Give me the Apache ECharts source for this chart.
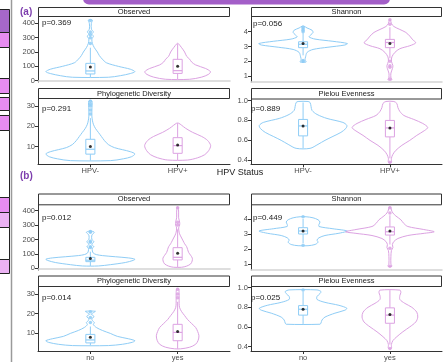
<!DOCTYPE html>
<html>
<head>
<meta charset="utf-8">
<script src="https://cdn.jsdelivr.net/npm/echarts@6/dist/echarts.min.js"></script>
<style>
  html, body { margin: 0; padding: 0; background: #fff; }
  #chart { width: 445px; height: 362px; }
</style>
</head>
<body>
<div id="chart"></div>
<script>
const groupsA = ['HPV-', 'HPV+'];
const groupsB = ['no', 'yes'];
const metrics = ['Observed', 'Shannon', 'Phylogenetic Diversity', 'Pielou Evenness'];
const pValuesA = ['p=0.369', 'p=0.056', 'p=0.291', 'p=0.889'];
const pValuesB = ['p=0.012', 'p=0.449', 'p=0.014', 'p=0.025'];

const ticksObserved = [0, 100, 200, 300, 400];
const ticksShannon = [1, 2, 3, 4];
const ticksPhylo = [10, 20, 30];
const ticksPielou = [0.4, 0.6, 0.8, 1.0];

// violin outlines: [value, density] (density in relative units, widest = 44.5)
const vioObsNegA = [[24, 18], [35, 30], [50, 40], [63, 44.5], [80, 40], [100, 28], [125, 16], [150, 12], [175, 9], [200, 7], [230, 4], [260, 2], [290, 1.5], [310, 3], [325, 1.5], [340, 3], [360, 1], [400, 1], [423, 2]];
const vioObsPosA = [[10, 12], [25, 24], [45, 31], [63, 32.8], [85, 28], [110, 18], [130, 14], [150, 12], [170, 9], [200, 7], [230, 4], [260, 0.5]];
const vioShaNegA = [[1.95, 3], [2.1, 2], [2.3, 2.5], [2.6, 4], [2.8, 10], [2.95, 25], [3.1, 42], [3.2, 44.5], [3.35, 30], [3.5, 12], [3.65, 6], [3.8, 8], [3.95, 10], [4.1, 9], [4.25, 4], [4.37, 1]];
const vioShaPosA = [[0.75, 2], [0.9, 1], [1.2, 1], [1.5, 2.5], [1.7, 3], [2.0, 1.5], [2.3, 2], [2.6, 5], [2.85, 10], [3.05, 20], [3.25, 26], [3.45, 23], [3.7, 20], [3.95, 16], [4.15, 10], [4.35, 4], [4.55, 1.5], [4.8, 0.5]];
const vioPhyNegA = [[3.1, 20], [4.0, 33], [5.0, 41], [6.4, 44.5], [7.5, 40], [8.5, 32], [9.5, 24], [11, 18], [13, 14], [15, 11], [17, 8], [19, 5], [21, 3], [23, 2], [25, 1.5], [28, 1.5], [32.5, 1.5]];
const vioPhyPosA = [[3.4, 10], [4.5, 20], [6, 27], [8, 31], [10.5, 33], [13, 30], [15, 24], [17, 15], [19, 8], [20.5, 4], [21.5, 1]];
const vioPieNegA = [[0.52, 7], [0.56, 15], [0.6, 22], [0.64, 30], [0.68, 38], [0.72, 43], [0.75, 44], [0.78, 40], [0.82, 24], [0.86, 14], [0.9, 9], [0.94, 8], [0.98, 7], [0.99, 5]];
const vioPiePosA = [[0.38, 1.5], [0.42, 1.5], [0.46, 3], [0.5, 6], [0.55, 12], [0.6, 20], [0.65, 27], [0.7, 35], [0.73, 38], [0.77, 33], [0.81, 24], [0.85, 14], [0.89, 10], [0.93, 8], [0.97, 7], [0.99, 4]];

const vioObsNoB = [[16, 8], [25, 20], [40, 35], [55, 43], [63, 44.5], [72, 38], [80, 25], [88, 12], [95, 6], [105, 3], [120, 2], [140, 2], [150, 3.5], [165, 1.5], [185, 3.5], [200, 1.5], [230, 1.5], [250, 4], [258, 1]];
const vioObsYesB = [[7, 4], [15, 9], [30, 13], [50, 14.5], [70, 14.7], [90, 13], [110, 11], [130, 10], [150, 9], [170, 7], [190, 5.5], [210, 4], [230, 2.5], [250, 1.5], [280, 1], [300, 2], [320, 2], [350, 1], [390, 1], [424, 0.5]];
const vioShaNoB = [[2.22, 5], [2.3, 12], [2.45, 15], [2.6, 14], [2.75, 16], [2.9, 22], [3.05, 36], [3.2, 44.3], [3.35, 30], [3.5, 16], [3.65, 16], [3.8, 17], [3.95, 15], [4.08, 10], [4.15, 3]];
const vioShaYesB = [[0.85, 2], [1.0, 1], [1.5, 1], [1.9, 1.5], [2.1, 3], [2.3, 2.5], [2.5, 4], [2.7, 8], [2.9, 18], [3.05, 35], [3.15, 44.5], [3.3, 34], [3.5, 18], [3.7, 14], [3.95, 11], [4.2, 6], [4.4, 3], [4.6, 1.5], [4.78, 1]];
const vioPhyNoB = [[3.85, 18], [4.5, 32], [5.5, 42], [6.3, 44.5], [7.3, 38], [8.5, 27], [10, 20], [11.5, 12], [13, 6], [14.5, 3], [15.5, 4], [16.5, 2], [17.5, 1.5], [18.3, 3.5], [19, 3], [19.7, 0.8], [20.5, 3], [21.2, 5]];
const vioPhyYesB = [[2.2, 3], [3, 12], [4.5, 18], [6.5, 20.5], [8.8, 21.3], [11, 20], [13, 18], [15, 14], [17, 10], [19, 7], [21, 4], [23, 2], [25, 1.5], [28, 1.5], [30, 1.5], [32.5, 1]];
const vioPieNoB = [[0.627, 17], [0.64, 18], [0.67, 19], [0.7, 22], [0.74, 32], [0.77, 42], [0.79, 44], [0.82, 36], [0.85, 22], [0.88, 14], [0.91, 14], [0.94, 17], [0.96, 18], [0.977, 14]];
const vioPieYesB = [[0.38, 1.5], [0.42, 1.5], [0.46, 3], [0.5, 7], [0.55, 13], [0.6, 20], [0.65, 26], [0.7, 28], [0.75, 27], [0.8, 22], [0.84, 15], [0.88, 10], [0.92, 10], [0.95, 11], [0.975, 10]];

// boxes: [lower whisker, q1, median, q3, upper whisker]
const boxObsA = [[24, 47, 68, 121, 230], [10, 51, 70, 149, 255]];
const boxShaA = [[2.4, 2.92, 3.15, 3.32, 3.9], [2.2, 2.92, 3.27, 3.48, 4.3]];
const boxPhyA = [[3.1, 6.3, 8.7, 13.6, 24], [3.4, 6.7, 10.5, 14.4, 21.5]];
const boxPieA = [[0.52, 0.645, 0.745, 0.81, 0.98], [0.42, 0.635, 0.725, 0.80, 0.98]];
const boxObsB = [[16, 46, 56, 76, 115], [7, 58, 76, 143, 270]];
const boxShaB = [[2.4, 3.0, 3.2, 3.42, 4.0], [2.3, 2.93, 3.15, 3.47, 4.25]];
const boxPhyB = [[3.85, 5.2, 6.7, 9.5, 13.5], [2.2, 6.3, 10.5, 14.6, 26]];
const boxPieB = [[0.63, 0.72, 0.78, 0.817, 0.96], [0.42, 0.637, 0.72, 0.794, 0.975]];

const meanObsA = [95, 100];
const meanShaA = [3.2, 3.2];
const meanPhyA = [10, 10.8];
const meanPieA = [0.745, 0.725];
const meanObsB = [67, 104];
const meanShaB = [3.2, 3.2];
const meanPhyB = [8, 11];
const meanPieB = [0.78, 0.727];

const outObsA = [[260, 300, 320, 340, 420], []];
const outShaA = [[2.0, 2.05, 4.0, 4.1, 4.2, 4.3], [0.8, 1.6, 1.7, 2.0, 4.5, 4.8]];
const outPhyA = [[26, 28, 30, 31, 32.3], []];
const outPieA = [[], [0.38]];
const outObsB = [[145, 150, 180, 188, 250, 255], [300, 320, 420]];
const outShaB = [[2.25, 4.15], [0.85, 2.05, 4.4, 4.75]];
const outPhyB = [[15.5, 18, 21], [28, 30, 32.3]];
const outPieB = [[0.975], [0.38]];

const COLORS = ['#8fcdf6', '#dca2e2'];
const FONT = '"Liberation Sans", Arial, sans-serif';
const DENS_SCALE = 0.51 / 44.5;
const BOX_HW = 0.052;

const panels = [
  { rect: [38, 16, 192, 66], strip: 7, name: metrics[0], range: [-9, 451], ticks: ticksObserved, groups: groupsA, p: pValuesA[0], pX: 42, pY: 23, vio: [vioObsNegA, vioObsPosA], box: boxObsA, mean: meanObsA, out: outObsA, bottom: false },
  { rect: [251, 16, 191, 66], strip: 7, name: metrics[1], range: [0.6, 5.06], ticks: ticksShannon, groups: groupsA, p: pValuesA[1], pX: 253, pY: 24, vio: [vioShaNegA, vioShaPosA], box: boxShaA, mean: meanShaA, out: outShaA, bottom: false },
  { rect: [38, 98, 192, 66.3], strip: 88, name: metrics[2], range: [1.3, 33.9], ticks: ticksPhylo, groups: groupsA, p: pValuesA[2], pX: 42, pY: 109, vio: [vioPhyNegA, vioPhyPosA], box: boxPhyA, mean: meanPhyA, out: outPhyA, bottom: true },
  { rect: [251, 98.5, 191, 65.8], strip: 88, name: metrics[3], range: [0.36, 1.02], ticks: ticksPielou, groups: groupsA, p: pValuesA[3], pX: 251, pY: 108.5, vio: [vioPieNegA, vioPiePosA], box: boxPieA, mean: meanPieA, out: outPieA, bottom: true },
  { rect: [38, 204.3, 192, 65.7], strip: 193.5, name: metrics[0], range: [-12, 444], ticks: ticksObserved, groups: groupsB, p: pValuesB[0], pX: 42, pY: 217.5, vio: [vioObsNoB, vioObsYesB], box: boxObsB, mean: meanObsB, out: outObsB, bottom: false },
  { rect: [251, 204.3, 191, 65.7], strip: 193.5, name: metrics[1], range: [0.6, 4.98], ticks: ticksShannon, groups: groupsB, p: pValuesB[1], pX: 253, pY: 217.5, vio: [vioShaNoB, vioShaYesB], box: boxShaB, mean: meanShaB, out: outShaB, bottom: false },
  { rect: [38, 286, 192, 66.3], strip: 275.5, name: metrics[2], range: [1.1, 34], ticks: ticksPhylo, groups: groupsB, p: pValuesB[2], pX: 42, pY: 298, vio: [vioPhyNoB, vioPhyYesB], box: boxPhyB, mean: meanPhyB, out: outPhyB, bottom: true },
  { rect: [251, 286, 191, 66.3], strip: 275.5, name: metrics[3], range: [0.354, 1.017], ticks: ticksPielou, groups: groupsB, p: pValuesB[3], pX: 251, pY: 298, vio: [vioPieNoB, vioPieYesB], box: boxPieB, mean: meanPieB, out: outPieB, bottom: true }
];

function violinItem(profiles) {
  return function (params, api) {
    const c = api.value(0);
    const prof = profiles[params.dataIndex];
    const right = prof.map(([v, d]) => api.coord([c + d * DENS_SCALE, v]));
    const left = prof.slice().reverse().map(([v, d]) => api.coord([c - d * DENS_SCALE, v]));
    return {
      type: 'polygon',
      shape: { points: right.concat(left), smooth: 0.3 },
      style: { fill: 'rgba(0,0,0,0)', stroke: COLORS[params.dataIndex], lineWidth: 1 }
    };
  };
}

function boxItem(params, api) {
  const c = api.value(0);
  const [lo, q1, med, q3, hi] = [1, 2, 3, 4, 5].map(i => api.value(i));
  const color = COLORS[params.dataIndex];
  const pLo = api.coord([c, lo]), pQ1 = api.coord([c, q1]);
  const pQ3 = api.coord([c, q3]), pHi = api.coord([c, hi]);
  const tl = api.coord([c - BOX_HW, q3]), br = api.coord([c + BOX_HW, q1]);
  const m1 = api.coord([c - BOX_HW, med]), m2 = api.coord([c + BOX_HW, med]);
  const ln = { stroke: color, lineWidth: 1 };
  return {
    type: 'group',
    children: [
      { type: 'line', shape: { x1: pLo[0], y1: pLo[1], x2: pQ1[0], y2: pQ1[1] }, style: ln },
      { type: 'line', shape: { x1: pQ3[0], y1: pQ3[1], x2: pHi[0], y2: pHi[1] }, style: ln },
      { type: 'rect', shape: { x: tl[0], y: tl[1], width: br[0] - tl[0], height: br[1] - tl[1] }, style: { fill: '#fff', stroke: color, lineWidth: 1 } },
      { type: 'line', shape: { x1: m1[0], y1: m1[1], x2: m2[0], y2: m2[1] }, style: { stroke: color, lineWidth: 1.2 } }
    ]
  };
}

const grids = [], xAxes = [], yAxes = [], series = [], graphics = [];

panels.forEach((pn, i) => {
  const [l, t, w, h] = pn.rect;
  grids.push({ left: l, top: t, width: w, height: h });
  xAxes.push({
    type: 'value', gridIndex: i, min: 0.4, max: 2.6,
    splitLine: { show: false },
    axisLine: { show: true, lineStyle: { color: pn.bottom ? '#333' : '#d3d3d3', width: pn.bottom ? 1 : 1.5 } },
    axisTick: { show: pn.bottom, length: 3, lineStyle: { color: '#333' }, customValues: [1, 2] },
    axisLabel: { show: pn.bottom, customValues: [1, 2], formatter: v => pn.groups[Math.round(v) - 1], color: '#4d4d4d', fontSize: 7.5, fontFamily: FONT, margin: 3 }
  });
  yAxes.push({
    type: 'value', gridIndex: i, min: pn.range[0], max: pn.range[1],
    splitLine: { show: false },
    axisLine: { show: true, lineStyle: { color: '#333', width: 1 } },
    axisTick: { show: true, length: 3, lineStyle: { color: '#333' }, customValues: pn.ticks },
    axisLabel: { customValues: pn.ticks, formatter: v => pn.ticks === ticksPielou ? v.toFixed(1) : String(v), color: '#4d4d4d', fontSize: 7.5, fontFamily: FONT, margin: 3 }
  });

  series.push({
    type: 'custom', xAxisIndex: i, yAxisIndex: i, silent: true,
    renderItem: violinItem(pn.vio),
    data: [[1, pn.box[0][2]], [2, pn.box[1][2]]]
  });
  series.push({
    type: 'custom', xAxisIndex: i, yAxisIndex: i, silent: true,
    renderItem: boxItem,
    encode: { x: 0, y: [1, 2, 3, 4, 5] },
    data: pn.box.map((b, k) => [k + 1].concat(b))
  });
  pn.out.forEach((vals, k) => {
    series.push({
      type: 'scatter', xAxisIndex: i, yAxisIndex: i, silent: true,
      symbolSize: 3.5, itemStyle: { color: COLORS[k], opacity: 0.85 },
      data: vals.map(v => [k + 1, v])
    });
  });
  series.push({
    type: 'scatter', xAxisIndex: i, yAxisIndex: i, silent: true,
    symbolSize: 3, itemStyle: { color: '#000' },
    data: pn.mean.map((m, k) => [k + 1, m])
  });

  // facet strip
  graphics.push({
    type: 'rect', shape: { x: l + 0.5, y: pn.strip + 0.5, width: w - 1, height: t - pn.strip },
    style: { fill: '#fff', stroke: '#333', lineWidth: 1 }
  });
  graphics.push({
    type: 'text', x: l + w / 2, y: (pn.strip + t) / 2 + 0.5,
    style: { text: pn.name, fill: '#1a1a1a', font: '7.5px ' + FONT, align: 'center', verticalAlign: 'middle' }
  });
  graphics.push({
    type: 'text', x: pn.pX, y: pn.pY,
    style: { text: pn.p, fill: '#1a1a1a', font: '8px ' + FONT, align: 'left', verticalAlign: 'middle' }, z: 10
  });
});

// cropped neighbouring figure on the left and banner on top
const tableRows = [[9, 32, '#a667c9'], [32, 47, '#e78cf1'], [47, 78, '#fff'], [78, 93, '#e78cf1'], [93, 97, '#fff'], [97, 110, '#e78cf1'], [110, 115, '#fff'], [115, 130, '#e78cf1'], [130, 197, '#fff'], [197, 212, '#e78cf1'], [212, 227, '#ebb2f3'], [227, 259, '#fff'], [259, 273, '#ebb2f3']];
tableRows.forEach(([y0, y1, c]) => {
  graphics.push({ type: 'rect', shape: { x: -3, y: y0 + 0.5, width: 12.5, height: y1 - y0 }, style: { fill: c, stroke: '#222', lineWidth: 1 } });
});
graphics.push({ type: 'line', shape: { x1: 11.5, y1: 0, x2: 11.5, y2: 362 }, style: { stroke: '#9a9a9a', lineWidth: 1.5 } });
graphics.push({ type: 'rect', shape: { x: 83, y: -12, width: 307, height: 16.5, r: 6 }, style: { fill: '#a35fc8' } });

graphics.push({ type: 'text', x: 20, y: 12, style: { text: '(a)', fill: '#7e3fae', font: 'bold 10px ' + FONT, verticalAlign: 'middle' } });
graphics.push({ type: 'text', x: 20, y: 176, style: { text: '(b)', fill: '#7e3fae', font: 'bold 10px ' + FONT, verticalAlign: 'middle' } });
graphics.push({ type: 'text', x: 240, y: 173, style: { text: 'HPV Status', fill: '#1a1a1a', font: '9px ' + FONT, align: 'center', verticalAlign: 'middle' } });

const chart = echarts.init(document.getElementById('chart'), null, { renderer: 'canvas' });
chart.setOption({
  animation: false,
  backgroundColor: '#fff',
  grid: grids,
  xAxis: xAxes,
  yAxis: yAxes,
  series: series,
  graphic: graphics
});
</script>
</body>
</html>
